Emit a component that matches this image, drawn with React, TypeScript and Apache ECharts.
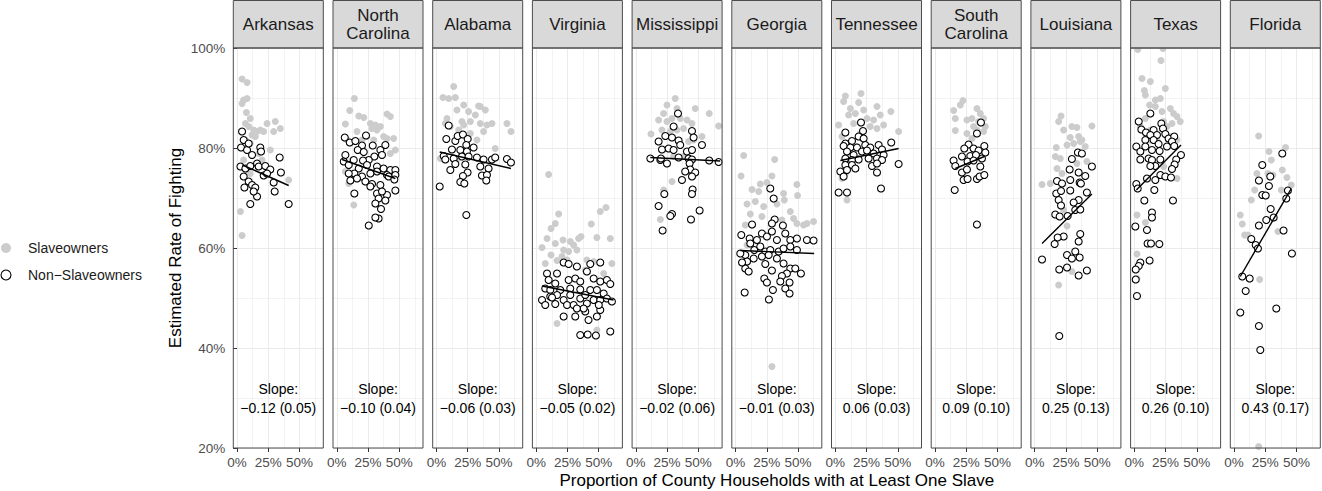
import { useEffect, useRef } from 'react'
import * as echarts from 'echarts'

const states = [
  'Arkansas', 'North\nCarolina', 'Alabama', 'Virginia', 'Mississippi', 'Georgia',
  'Tennessee', 'South\nCarolina', 'Louisiana', 'Texas', 'Florida',
]

const slopeLabels = [
  '−0.12 (0.05)', '−0.10 (0.04)', '−0.06 (0.03)', '−0.05 (0.02)', '−0.02 (0.06)', '−0.01 (0.03)',
  '0.06 (0.03)', '0.09 (0.10)', '0.25 (0.13)', '0.26 (0.10)', '0.43 (0.17)',
]

const xTicks = [0, 25, 50]
const xMinorTicks = [12.5, 37.5, 62.5]

// [proportion of households with a slave (%), estimated rate of fighting (%)]
const arkansasOwners = [
  [4.0, 93.8], [8.0, 93.1], [5.3, 89.6], [8.0, 89.9], [4.0, 88.9], [7.5, 87.1], [10.6, 85.9], [6.7, 84.9],
  [9.3, 84.3], [13.3, 83.6], [16.0, 83.3], [12.0, 82.6], [18.6, 83.6], [24.0, 84.9], [30.6, 85.3], [34.6, 83.9],
  [29.3, 83.3], [21.3, 83.3], [26.6, 79.6], [41.3, 73.6], [2.7, 67.3], [4.0, 62.5], [6.7, 81.6], [10.6, 80.9],
  [14.6, 82.3], [5.3, 77.6], [8.0, 75.6], [17.3, 78.9], [20.0, 77.6], [10.6, 74.9],
]
const arkansasNonOwners = [
  [4.0, 83.3], [5.3, 81.6], [3.2, 80.1], [8.0, 79.6], [12.0, 78.6], [18.6, 80.1], [19.2, 79.3], [9.3, 80.9],
  [34.1, 78.1], [2.7, 76.3], [6.7, 75.9], [10.6, 76.4], [16.0, 76.9], [17.3, 76.3], [22.6, 76.4], [26.6, 75.7],
  [35.1, 75.1], [21.3, 74.5], [5.3, 74.3], [9.3, 73.3], [12.0, 72.6], [14.6, 72.1], [5.9, 72.1], [29.3, 73.1],
  [30.1, 71.3], [16.0, 70.3], [10.6, 68.8], [41.3, 68.8], [13.3, 71.3], [24.0, 74.9],
]

const northCarolinaOwners = [
  [14.1, 89.9], [10.4, 87.5], [6.9, 84.8], [17.6, 86.4], [21.6, 86.1], [26.9, 84.9], [30.9, 84.6], [34.9, 84.3],
  [40.2, 86.8], [42.9, 86.3], [45.5, 81.9], [46.9, 79.6], [40.2, 81.9], [32.2, 83.6], [28.2, 83.9], [16.2, 83.3],
  [8.3, 81.6], [12.2, 77.6], [6.9, 75.3], [9.6, 72.9], [13.6, 68.6], [37.5, 82.3], [42.9, 78.9], [24.2, 82.3],
  [20.2, 81.6], [29.6, 81.6],
]
const northCarolinaNonOwners = [
  [6.4, 82.1], [10.4, 81.1], [14.9, 81.4], [23.4, 82.5], [20.2, 80.5], [16.8, 79.6], [21.6, 79.2], [28.8, 80.5],
  [34.9, 79.6], [38.9, 80.6], [36.2, 78.6], [30.1, 78.3], [25.6, 77.6], [21.0, 77.5], [13.6, 77.6], [6.9, 78.6],
  [5.6, 77.3], [9.6, 76.6], [17.6, 75.9], [24.2, 76.6], [32.2, 76.3], [37.5, 75.9], [42.9, 75.6], [46.9, 75.6],
  [40.2, 74.6], [32.2, 75.3], [26.9, 74.9], [20.2, 74.3], [14.1, 74.9], [9.6, 74.9], [10.9, 73.5], [16.2, 73.9],
  [22.9, 73.3], [28.2, 72.8], [34.9, 72.6], [41.5, 74.3], [46.9, 74.6], [26.9, 72.3], [32.2, 70.9], [40.2, 70.6],
  [46.9, 71.5], [36.2, 71.3], [33.5, 69.9], [30.9, 68.9], [38.9, 69.5], [35.4, 67.8], [33.5, 65.9], [30.9, 66.1],
  [25.6, 64.5], [14.1, 70.9], [46.1, 73.7],
]

const alabamaOwners = [
  [13.8, 92.3], [5.2, 90.1], [9.8, 89.9], [15.1, 90.1], [21.8, 88.6], [16.4, 87.6], [25.7, 87.3], [33.7, 88.4],
  [35.1, 88.3], [39.1, 87.6], [31.1, 86.6], [27.1, 85.3], [20.4, 85.3], [21.8, 84.6], [8.4, 85.9], [7.1, 84.9],
  [11.1, 84.3], [17.8, 83.6], [35.1, 84.9], [40.4, 84.6], [44.4, 84.9], [37.7, 83.3], [56.4, 84.9], [59.6, 83.3],
  [47.0, 79.9], [32.4, 81.6], [27.1, 82.9], [24.4, 79.9], [3.1, 77.9], [16.4, 77.6],
]
const alabamaNonOwners = [
  [9.8, 84.5], [7.9, 81.8], [15.1, 81.4], [17.0, 82.4], [21.2, 82.7], [25.0, 81.8], [23.9, 80.6], [29.7, 80.1],
  [12.4, 79.7], [19.1, 79.6], [24.4, 79.3], [5.8, 78.4], [7.1, 77.7], [13.8, 77.9], [20.4, 78.3], [25.7, 78.3],
  [32.4, 78.1], [37.7, 77.7], [44.4, 77.7], [47.0, 78.1], [56.4, 77.8], [59.6, 77.1], [35.1, 76.3], [41.7, 75.9],
  [23.1, 76.7], [15.1, 76.8], [11.1, 75.6], [24.9, 75.1], [21.2, 74.4], [19.1, 73.2], [22.3, 72.9], [36.4, 74.5],
  [40.4, 74.6], [39.9, 73.5], [2.6, 72.3], [23.9, 66.6],
]

const virginiaOwners = [
  [10.0, 74.7], [18.0, 66.8], [15.3, 64.9], [11.9, 63.9], [8.7, 61.9], [15.3, 60.9], [21.5, 61.6], [27.3, 61.3],
  [34.0, 61.9], [35.9, 62.3], [30.0, 60.6], [32.6, 59.6], [26.0, 59.3], [22.0, 59.6], [4.7, 60.1], [7.3, 56.9],
  [11.9, 58.6], [16.7, 57.5], [20.7, 58.3], [24.7, 57.6], [40.6, 57.6], [46.0, 57.3], [51.3, 67.3], [55.9, 68.1],
  [44.1, 64.8], [48.6, 62.1], [59.3, 61.9], [60.6, 56.9], [54.0, 54.9], [39.3, 55.6], [16.7, 44.9], [48.6, 43.6],
]
const virginiaNonOwners = [
  [22.0, 57.1], [26.0, 56.8], [32.6, 56.3], [43.3, 56.8], [51.3, 57.1], [8.7, 54.9], [16.7, 54.9], [10.0, 53.6],
  [15.3, 52.9], [26.0, 53.6], [31.3, 53.9], [35.3, 53.3], [40.6, 55.3], [46.0, 53.9], [51.3, 53.3], [56.6, 53.6],
  [59.3, 52.8], [7.3, 51.9], [11.3, 51.6], [19.3, 51.6], [27.3, 51.9], [35.3, 51.7], [43.3, 51.6], [48.6, 51.6],
  [54.0, 50.9], [4.7, 49.6], [7.3, 48.6], [11.3, 50.3], [15.3, 48.8], [22.0, 49.6], [24.7, 48.6], [30.0, 48.6],
  [35.3, 49.9], [40.6, 48.9], [46.0, 49.6], [51.3, 49.6], [56.6, 49.9], [60.6, 49.3], [27.3, 50.6], [39.3, 50.6],
  [22.0, 46.3], [31.3, 46.3], [39.3, 47.3], [41.9, 45.6], [48.6, 46.3], [51.3, 47.6], [35.3, 42.6], [41.2, 42.7],
  [47.8, 42.5], [59.3, 43.3], [16.7, 50.6], [38.0, 47.9], [50.1, 48.6], [12.7, 50.1], [32.6, 47.9],
]

const mississippiOwners = [
  [31.5, 89.9], [24.9, 88.6], [32.9, 87.9], [22.2, 86.9], [18.2, 85.6], [24.9, 85.3], [28.9, 85.9], [35.5, 85.9],
  [40.9, 85.6], [47.5, 87.9], [58.7, 86.9], [66.2, 84.4], [44.9, 84.9], [38.2, 83.9], [32.9, 83.6], [27.6, 83.3],
  [12.1, 82.8], [20.9, 83.6], [52.9, 82.3], [42.2, 81.3], [28.9, 73.3], [22.2, 71.6], [19.6, 65.7], [46.2, 81.6],
  [30.2, 78.3], [38.2, 78.3],
]
const mississippiNonOwners = [
  [33.7, 86.9], [30.2, 84.3], [44.9, 83.4], [46.2, 82.1], [52.9, 80.6], [18.2, 81.3], [23.6, 82.4], [28.9, 82.1],
  [34.2, 81.5], [20.9, 79.7], [26.2, 79.9], [30.2, 79.6], [35.5, 80.6], [40.9, 79.3], [44.9, 79.6], [11.6, 77.9],
  [19.6, 77.6], [24.9, 76.9], [34.2, 78.1], [42.2, 77.9], [44.9, 77.7], [58.7, 77.5], [66.2, 77.2], [43.0, 76.9],
  [43.5, 75.7], [39.5, 75.3], [47.5, 75.1], [44.9, 74.3], [36.9, 73.6], [45.4, 71.7], [44.9, 70.8], [22.8, 70.8],
  [18.2, 68.4], [28.9, 66.8], [27.6, 66.4], [44.1, 65.7], [51.0, 67.5], [21.4, 63.5], [20.1, 77.9],
]

const georgiaOwners = [
  [6.5, 78.5], [31.3, 77.7], [4.4, 74.4], [13.2, 71.7], [19.8, 72.8], [25.1, 73.1], [18.5, 71.3], [29.1, 74.4],
  [38.4, 70.9], [39.0, 69.6], [49.1, 72.7], [49.6, 70.5], [9.2, 68.8], [15.8, 69.3], [22.5, 68.3], [33.1, 68.8],
  [43.8, 67.3], [46.4, 65.9], [11.8, 66.8], [21.1, 66.3], [7.8, 64.6], [30.5, 65.6], [37.1, 65.6], [49.1, 64.9],
  [54.4, 64.6], [62.4, 65.3], [57.1, 64.9], [17.1, 61.6], [29.1, 36.3], [39.8, 54.9], [9.2, 60.6],
]
const georgiaNonOwners = [
  [27.8, 71.9], [30.5, 69.9], [31.3, 65.7], [29.1, 64.9], [37.9, 64.5], [13.2, 64.7], [4.6, 62.6], [11.3, 61.9],
  [17.1, 61.6], [21.1, 62.9], [25.1, 62.3], [29.1, 63.3], [33.1, 61.6], [39.8, 62.9], [43.8, 61.6], [49.1, 61.9],
  [57.1, 61.6], [62.4, 61.5], [7.8, 58.6], [3.8, 58.9], [15.0, 59.6], [19.8, 60.3], [23.8, 59.3], [27.8, 59.6],
  [34.5, 59.3], [38.4, 59.9], [43.8, 60.3], [49.1, 59.6], [9.2, 57.3], [7.8, 55.9], [10.5, 55.3], [14.5, 57.9],
  [21.1, 58.3], [26.5, 58.6], [33.1, 57.9], [38.4, 56.9], [23.8, 56.8], [29.1, 55.5], [43.8, 55.9], [47.8, 55.9],
  [52.3, 54.9], [41.1, 54.9], [37.1, 54.4], [23.0, 53.9], [25.1, 53.1], [35.8, 53.3], [43.2, 53.1], [39.8, 51.9],
  [43.2, 50.9], [29.9, 51.6], [7.3, 51.1], [26.7, 49.7], [11.8, 60.9], [5.2, 57.1],
]

const tennesseeOwners = [
  [8.1, 90.4], [20.6, 90.9], [6.7, 89.3], [12.1, 87.9], [18.7, 89.1], [10.7, 86.6], [16.1, 86.9], [22.7, 87.6],
  [25.4, 85.9], [33.4, 88.3], [36.0, 86.6], [30.7, 85.6], [38.7, 84.6], [44.5, 87.3], [50.7, 83.3], [2.7, 84.6],
  [5.4, 82.3], [9.4, 80.9], [33.4, 83.9], [28.0, 84.3], [14.7, 84.9], [20.0, 82.9], [9.4, 69.6], [8.1, 74.9],
  [5.4, 73.9], [17.4, 80.3],
]
const tennesseeNonOwners = [
  [20.6, 85.1], [22.2, 83.4], [8.1, 83.1], [18.7, 82.3], [22.7, 81.9], [13.4, 81.4], [8.1, 80.9], [6.7, 80.4],
  [12.1, 80.1], [17.4, 80.1], [24.0, 80.6], [28.0, 80.1], [34.7, 80.6], [37.4, 79.7], [44.8, 81.1], [9.4, 79.3],
  [14.7, 78.6], [21.4, 79.3], [25.4, 79.5], [30.7, 78.9], [38.7, 78.6], [8.1, 77.9], [13.4, 77.6], [18.7, 77.7],
  [26.7, 77.9], [33.4, 77.9], [37.4, 77.6], [50.7, 76.8], [8.1, 76.6], [13.4, 76.6], [29.4, 76.4], [33.4, 76.9],
  [4.1, 75.3], [9.4, 75.6], [16.1, 75.9], [33.4, 75.1], [6.7, 74.3], [36.6, 71.9], [2.7, 71.1], [9.4, 71.1],
]

const southCarolinaOwners = [
  [22.4, 89.5], [20.3, 88.6], [15.0, 87.5], [16.3, 85.9], [25.6, 85.6], [29.6, 85.9], [33.6, 87.9], [36.3, 86.9],
  [38.9, 85.9], [34.9, 85.3], [40.3, 84.3], [33.6, 83.6], [30.9, 84.3], [16.3, 83.5], [25.6, 82.9], [38.9, 83.3],
  [29.6, 81.9],
]
const southCarolinaNonOwners = [
  [36.8, 85.1], [33.6, 82.9], [39.5, 80.4], [26.9, 80.7], [30.9, 79.9], [23.5, 79.9], [34.9, 79.5], [40.3, 79.1],
  [21.6, 78.3], [28.3, 78.4], [32.8, 78.6], [37.6, 77.9], [14.9, 77.5], [16.3, 76.4], [26.1, 77.3], [30.9, 77.5],
  [36.3, 76.3], [21.6, 75.1], [25.6, 75.7], [22.9, 73.6], [26.1, 73.8], [33.6, 73.8], [35.7, 74.3], [39.5, 74.6],
  [15.8, 71.6], [33.6, 64.7],
]

const louisianaOwners = [
  [21.1, 86.4], [19.2, 85.3], [23.2, 83.6], [29.8, 84.3], [33.8, 84.1], [45.8, 84.4], [28.5, 82.1], [35.2, 82.3],
  [37.8, 81.6], [31.2, 80.9], [25.9, 80.6], [40.5, 80.3], [17.3, 80.1], [16.5, 78.3], [20.5, 77.9], [17.9, 75.9],
  [21.9, 74.9], [33.8, 76.9], [41.8, 77.3], [5.9, 72.7], [12.5, 72.9], [25.9, 64.4], [29.8, 55.3], [19.2, 52.6],
  [23.2, 67.6], [36.5, 81.3],
]
const louisianaNonOwners = [
  [34.6, 79.1], [37.8, 78.9], [29.8, 77.8], [45.8, 76.3], [28.0, 75.7], [35.2, 75.1], [40.5, 74.4], [36.0, 73.1],
  [37.0, 72.9], [17.9, 73.4], [21.9, 72.9], [28.5, 73.6], [17.3, 70.9], [21.1, 71.4], [28.5, 71.5], [41.8, 71.1],
  [19.2, 69.6], [35.2, 69.6], [21.1, 68.5], [16.5, 66.7], [20.0, 66.3], [26.4, 66.4], [32.5, 67.6], [36.5, 67.7],
  [31.2, 69.1], [36.5, 62.8], [35.2, 61.3], [23.2, 62.3], [18.4, 62.1], [16.0, 60.8], [25.9, 58.6], [32.5, 59.3],
  [29.8, 57.9], [36.0, 58.1], [5.9, 57.7], [19.7, 55.7], [25.9, 56.1], [41.8, 55.5], [35.2, 54.5], [19.7, 42.4],
]

const texasOwners = [
  [2.7, 99.7], [22.9, 99.9], [21.3, 97.5], [6.1, 93.9], [12.8, 93.3], [8.0, 91.5], [8.8, 90.6], [24.8, 91.9],
  [16.8, 89.6], [20.8, 89.9], [12.2, 88.6], [16.8, 88.3], [22.1, 87.3], [28.8, 87.9], [31.4, 86.9], [34.1, 86.3],
  [36.7, 85.3], [30.1, 84.9], [23.4, 85.3], [8.8, 85.9], [4.8, 84.3], [12.8, 83.6], [26.1, 84.3], [28.8, 82.3],
  [34.1, 81.6], [23.4, 76.3], [34.1, 73.9], [2.1, 66.6], [8.8, 65.1], [2.1, 58.8], [2.1, 53.9], [18.1, 81.6],
  [12.8, 81.6],
]
const texasNonOwners = [
  [12.8, 86.9], [3.5, 85.3], [5.6, 83.7], [9.3, 83.1], [15.4, 83.6], [21.6, 84.9], [22.9, 83.9], [18.1, 82.6],
  [24.8, 82.8], [27.4, 81.9], [31.9, 82.3], [30.1, 81.3], [12.8, 82.6], [8.8, 81.6], [15.4, 81.6], [19.4, 80.8],
  [26.1, 80.3], [31.9, 80.4], [1.6, 80.3], [4.8, 79.3], [8.8, 80.3], [14.1, 79.6], [20.2, 79.4], [11.4, 77.9],
  [4.8, 77.7], [14.1, 77.6], [16.8, 76.4], [12.8, 76.4], [20.8, 77.7], [37.3, 78.6], [33.5, 77.7], [32.2, 76.7],
  [30.1, 75.8], [20.8, 74.6], [24.8, 74.3], [29.3, 74.1], [10.1, 73.9], [16.8, 73.6], [1.6, 72.8], [2.7, 71.9],
  [16.0, 71.6], [8.0, 69.5], [30.9, 69.5], [14.1, 67.1], [14.1, 66.1], [0.8, 64.3], [10.1, 63.6], [10.6, 60.9],
  [13.3, 60.9], [20.0, 60.8], [12.2, 57.5], [4.8, 57.1], [3.5, 56.4], [1.1, 55.7], [1.1, 53.7], [2.1, 50.4],
]

const floridaOwners = [
  [19.7, 82.4], [41.2, 80.1], [27.9, 79.3], [29.8, 77.6], [22.6, 76.6], [18.3, 74.9], [27.1, 74.9], [31.1, 74.6],
  [38.6, 75.6], [42.3, 74.1], [45.8, 72.6], [16.5, 71.6], [25.8, 70.6], [13.8, 69.6], [5.0, 66.6], [6.6, 64.8],
  [8.5, 62.6], [11.2, 62.6], [35.1, 63.3], [20.5, 53.7], [37.8, 71.6], [19.7, 20.3],
]
const floridaNonOwners = [
  [38.6, 78.9], [22.6, 76.6], [19.9, 73.5], [29.0, 74.3], [27.9, 72.4], [43.1, 71.5], [22.6, 70.6], [25.3, 70.5],
  [41.8, 69.9], [29.3, 67.8], [31.7, 66.1], [25.8, 65.6], [19.9, 64.5], [39.6, 63.5], [13.8, 61.8], [17.3, 60.6],
  [19.1, 59.9], [46.3, 58.9], [6.6, 54.3], [12.5, 53.9], [9.3, 51.4], [5.0, 47.1], [33.8, 47.9], [19.9, 44.4],
  [21.0, 39.6],
]

// fitted line for non-slaveowners, [start, end]
const fitLines = [
  [[4.3, 76.6], [41.3, 72.5]],
  [[4.3, 77.7], [46.9, 73.9]],
  [[2.6, 79.2], [59.6, 75.9]],
  [[4.7, 52.4], [61.9, 49.6]],
  [[11.6, 78.1], [67.5, 77.4]],
  [[3.8, 59.5], [62.9, 58.9]],
  [[4.1, 77.5], [50.7, 79.9]],
  [[16.3, 75.9], [39.5, 78.3]],
  [[5.9, 60.9], [45.8, 70.8]],
  [[1.6, 71.6], [37.3, 80.6]],
  [[5.0, 54.3], [45.8, 71.9]],
]

const ownerSets = [
  arkansasOwners, northCarolinaOwners, alabamaOwners, virginiaOwners, mississippiOwners, georgiaOwners,
  tennesseeOwners, southCarolinaOwners, louisianaOwners, texasOwners, floridaOwners,
]
const nonOwnerSets = [
  arkansasNonOwners, northCarolinaNonOwners, alabamaNonOwners, virginiaNonOwners, mississippiNonOwners,
  georgiaNonOwners, tennesseeNonOwners, southCarolinaNonOwners, louisianaNonOwners, texasNonOwners, floridaNonOwners,
]

const FONT = '"Liberation Sans", Arial, Helvetica, sans-serif'
const PANEL_LEFT = 233.3
const PANEL_STEP = 99.7
const PANEL_W = 90
const PANEL_TOP = 48
const PANEL_H = 400
const GRID_COLOR = '#EBEBEB'
const BORDER = '#4D4D4D'

function buildOption(): echarts.EChartsOption {
  const grid: any[] = []
  const xAxis: any[] = []
  const yAxis: any[] = []
  const series: any[] = []
  const graphic: any[] = []

  states.forEach((state, i) => {
    const left = PANEL_LEFT + i * PANEL_STEP
    grid.push({ left, top: PANEL_TOP, width: PANEL_W, height: PANEL_H, containLabel: false })

    xAxis.push({
      gridIndex: i,
      type: 'value',
      min: -3,
      max: 69,
      axisLine: { show: false },
      axisTick: { show: true, length: 4, customValues: xTicks, lineStyle: { color: '#333333', width: 1 } },
      axisLabel: {
        customValues: xTicks,
        formatter: (v: number) => `${v}%`,
        color: '#4D4D4D',
        fontSize: 13.5,
        fontFamily: FONT,
        margin: 7,
      },
      splitLine: { show: true, lineStyle: { color: GRID_COLOR, width: 1 } },
    })
    xAxis.push({
      gridIndex: i,
      type: 'value',
      position: 'bottom',
      min: -3,
      max: 69,
      axisLine: { show: false },
      axisTick: { show: false, customValues: xMinorTicks },
      axisLabel: { show: false },
      splitLine: { show: true, lineStyle: { color: GRID_COLOR, width: 0.6 } },
    })

    yAxis.push({
      gridIndex: i,
      type: 'value',
      min: 20,
      max: 100,
      interval: 20,
      axisLine: { show: false },
      axisTick: { show: i === 0, length: 4, lineStyle: { color: '#333333', width: 1 } },
      axisLabel: {
        show: i === 0,
        formatter: (v: number) => `${v}%`,
        color: '#4D4D4D',
        fontSize: 13.5,
        fontFamily: FONT,
        margin: 8,
      },
      splitLine: { show: true, lineStyle: { color: GRID_COLOR, width: 1 } },
      minorTick: { show: false, splitNumber: 2 },
      minorSplitLine: { show: true, lineStyle: { color: GRID_COLOR, width: 0.6 } },
    })

    series.push({
      name: 'Slaveowners',
      type: 'scatter',
      xAxisIndex: i * 2,
      yAxisIndex: i,
      data: ownerSets[i],
      symbol: 'circle',
      symbolSize: 7,
      itemStyle: { color: '#CCCCCC', opacity: 1 },
      z: 2,
    })
    series.push({
      name: 'Non−Slaveowners',
      type: 'scatter',
      xAxisIndex: i * 2,
      yAxisIndex: i,
      data: nonOwnerSets[i],
      symbol: 'circle',
      symbolSize: 7,
      itemStyle: { color: '#FFFFFF', borderColor: '#000000', borderWidth: 1.1, opacity: 1 },
      z: 3,
    })
    series.push({
      type: 'line',
      xAxisIndex: i * 2,
      yAxisIndex: i,
      data: fitLines[i],
      showSymbol: false,
      symbol: 'none',
      lineStyle: { color: '#000000', width: 1.4 },
      z: 4,
    })

    // strip header
    graphic.push({
      type: 'rect',
      z: 10,
      shape: { x: left, y: 0.5, width: PANEL_W, height: PANEL_TOP - 0.5 },
      style: { fill: '#D9D9D9', stroke: BORDER, lineWidth: 1 },
    })
    graphic.push({
      type: 'text',
      z: 11,
      x: left + PANEL_W / 2,
      y: 24.5,
      style: {
        text: state,
        align: 'center',
        verticalAlign: 'middle',
        fontSize: 17,
        lineHeight: 18,
        fontFamily: FONT,
        fill: '#1A1A1A',
      },
    })
    // panel border
    graphic.push({
      type: 'rect',
      z: 10,
      shape: { x: left, y: PANEL_TOP, width: PANEL_W, height: PANEL_H },
      style: { fill: 'none', stroke: BORDER, lineWidth: 1 },
    })
    // slope label
    graphic.push({
      type: 'text',
      z: 11,
      x: left + PANEL_W / 2,
      y: 398.5,
      style: {
        text: `Slope:\n${slopeLabels[i]}`,
        align: 'center',
        verticalAlign: 'middle',
        fontSize: 14,
        lineHeight: 19.5,
        fontFamily: FONT,
        fill: '#000000',
      },
    })
  })

  // legend
  graphic.push(
    { type: 'circle', z: 11, shape: { cx: 6, cy: 248, r: 5 }, style: { fill: '#CCCCCC' } },
    {
      type: 'text', z: 11, x: 28, y: 248,
      style: { text: 'Slaveowners', verticalAlign: 'middle', fontSize: 14, fontFamily: FONT, fill: '#1A1A1A' },
    },
    { type: 'circle', z: 11, shape: { cx: 6, cy: 275, r: 5 }, style: { fill: '#FFFFFF', stroke: '#000000', lineWidth: 1.1 } },
    {
      type: 'text', z: 11, x: 28, y: 275,
      style: { text: 'Non−Slaveowners', verticalAlign: 'middle', fontSize: 14, fontFamily: FONT, fill: '#1A1A1A' },
    },
  )

  // axis titles
  graphic.push(
    {
      type: 'text', z: 11, x: 175, y: 248, rotation: Math.PI / 2,
      style: {
        text: 'Estimated Rate of Fighting', align: 'center', verticalAlign: 'middle',
        fontSize: 17, fontFamily: FONT, fill: '#000000',
      },
    },
    {
      type: 'text', z: 11, x: PANEL_LEFT + (10 * PANEL_STEP + PANEL_W) / 2, y: 480,
      style: {
        text: 'Proportion of County Households with at Least One Slave', align: 'center', verticalAlign: 'middle',
        fontSize: 17, fontFamily: FONT, fill: '#000000',
      },
    },
  )

  return {
    animation: false,
    backgroundColor: '#FFFFFF',
    textStyle: { fontFamily: FONT },
    grid,
    xAxis,
    yAxis,
    series,
    graphic,
  }
}

export default function App() {
  const ref = useRef<HTMLDivElement>(null)

  useEffect(() => {
    document.body.style.margin = '0'
    if (!ref.current) return
    const chart = echarts.init(ref.current, undefined, { renderer: 'svg' })
    chart.setOption(buildOption())
    return () => {
      chart.dispose()
    }
  }, [])

  return <div ref={ref} style={{ width: 1322, height: 491 }} />
}
